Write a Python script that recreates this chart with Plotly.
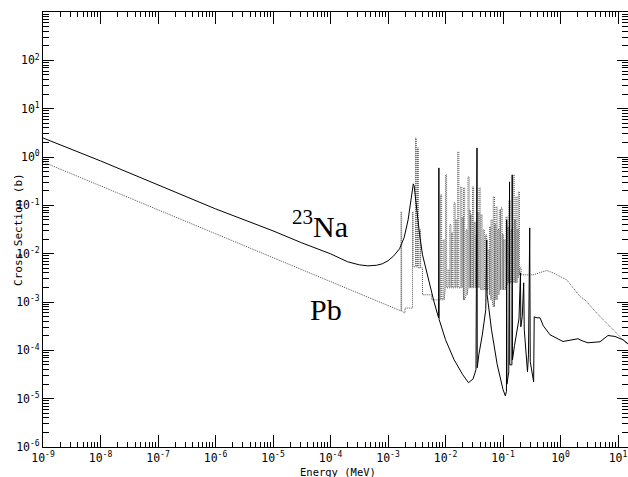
import numpy as np
import plotly.graph_objects as go

# ---------------- data (log10 of energy in MeV, log10 of cross section in b) ----------------
na_log10_energy = [-9.0, -8.0, -7.0, -6.0, -5.0, -4.5, -4.0, -3.7, -3.5, -3.35, -3.2, -3.1, -3.0,
                   -2.9, -2.8, -2.72, -2.65, -2.6, -2.56, -2.545, -2.52, -2.49, -2.45, -2.40,
                   -2.30, -2.20, -2.12, -2.115, -2.111, -2.0, -1.85, -1.70, -1.60, -1.52, -1.47,
                   -1.452, -1.448, -1.42, -1.36, -1.30, -1.282, -1.276, -1.2, -1.1, -1.0, -0.96,
                   -0.94, -0.936, -0.932, -0.90, -0.886, -0.882, -0.845, -0.840, -0.836, -0.80,
                   -0.75, -0.722, -0.696, -0.690, -0.665, -0.640, -0.630, -0.600, -0.574,
                   -0.557, -0.535, -0.526, -0.487, -0.467, -0.457, -0.409, -0.357, -0.299,
                   -0.183, 0.043, 0.304, 0.374, 0.478, 0.687, 0.826, 0.948, 1.087, 1.174]
na_log10_xs = [0.394, -0.081, -0.577, -1.073, -1.528, -1.776, -2.003, -2.169, -2.231, -2.252,
               -2.240, -2.210, -2.148, -2.045, -1.900, -1.670, -1.300, -0.887, -0.556, -0.598,
               -0.887, -1.197, -1.611, -2.024, -2.540, -2.995, -3.330, -0.226, -3.360, -3.780,
               -4.195, -4.505, -4.670, -4.590, -4.400, 0.188, -4.360, -4.090, -3.680, -3.160,
               -1.714, -2.850, -3.575, -4.300, -4.810, -4.940, -4.850, -1.300, -4.700, -4.450,
               -0.515, -4.300, -4.300, -0.370, -4.200, -3.900, -3.550, -3.350, -2.397, -3.513,
               -3.300, -2.603, -3.575, -3.988, -4.443, -4.092, -1.466, -4.236, -4.505, -4.650,
               -3.306, -3.327, -3.327, -3.492, -3.678, -3.817, -3.761, -3.802, -3.844, -3.823,
               -3.693, -3.713, -3.782, -3.864]

pb_low_log10_energy = [-9.0, -8.0, -7.0, -6.0, -5.0, -4.0, -3.0, -2.774, -2.774, -2.763, -2.763,
                       -2.704, -2.704, -2.574, -2.574, -2.564, -2.564, -2.522, -2.522, -2.508,
                       -2.508, -2.487, -2.487, -2.473, -2.473, -2.443, -2.443, -2.433, -2.433,
                       -2.400, -2.400, -2.240, -2.240, -2.113]
pb_low_log10_xs = [-0.102, -0.598, -1.094, -1.590, -2.086, -2.583, -3.079, -3.185, -1.135, -1.135,
                   -3.190, -3.230, -3.126, -3.126, -1.135, -1.135, -2.272, -2.272, 0.394, 0.394,
                   -2.272, -2.272, 0.188, 0.188, -2.293, -2.293, -1.507, -1.507, -2.293, -2.293,
                   -2.851, -2.851, -2.955, -2.955]

# resolved resonance forest of Pb: position, peak, background
pb_res_log10_energy = [-2.087, -2.043, -2.001, -1.957, -1.925, -1.896, -1.852, -1.820, -1.788,
                       -1.736, -1.710, -1.687, -1.643, -1.609, -1.585, -1.565, -1.530, -1.500,
                       -1.470, -1.440, -1.417, -1.383, -1.343, -1.304, -1.261, -1.235, -1.209,
                       -1.169, -1.145, -1.122, -1.090, -1.064, -1.035, -1.010, -0.983, -0.948,
                       -0.920, -0.896, -0.861, -0.826, -0.800, -0.777, -0.755, -0.734, -0.704]
pb_res_log10_peak = [-0.784, -1.714, -0.370, -2.334, -1.400, -1.570, -0.949, -1.300, 0.105,
                     -0.619, -1.250, -0.639, -1.507, -0.412, -1.100, -1.197, -0.619, -1.350,
                     -1.611, -1.150, -0.639, -1.197, -1.507, -1.611, -1.921, -1.450, -1.301,
                     -0.825, -1.400, -1.032, -1.500, -1.094, -1.053, -1.600, -1.714, -1.239,
                     -1.450, -0.887, -1.507, -0.370, -1.300, -0.825, -1.500, -0.722, -2.293]
pb_res_log10_base = [-2.955, -2.955, -2.707, -2.707, -2.707, -2.707, -2.707, -2.707, -2.707,
                     -2.707, -2.707, -2.955, -2.851, -2.707, -2.707, -2.707, -2.707, -2.707,
                     -2.707, -2.707, -2.707, -2.748, -2.748, -2.748, -2.748, -2.850, -2.955,
                     -3.099, -2.955, -2.955, -2.850, -2.748, -2.748, -2.748, -2.748, -2.645,
                     -2.603, -2.603, -2.603, -2.603, -2.603, -2.603, -2.500, -2.438, -2.438]

pb_tail_log10_energy = [-0.478, -0.357, -0.240, -0.130, 0.108, 0.339, 0.426, 0.630, 0.918, 1.174]
pb_tail_log10_xs = [-2.438, -2.397, -2.349, -2.397, -2.541, -2.887, -2.955, -3.230, -3.575, -3.885]

x_tick_exponents = [-9, -8, -7, -6, -5, -4, -3, -2, -1, 0, 1]
x_tick_text = ["10<sup>-9</sup>", "10<sup>-8</sup>", "10<sup>-7</sup>", "10<sup>-6</sup>",
               "10<sup>-5</sup>", "10<sup>-4</sup>", "10<sup>-3</sup>", "10<sup>-2</sup>",
               "10<sup>-1</sup>", "10<sup>0</sup>", "10<sup>1</sup>"]
y_tick_exponents = [-6, -5, -4, -3, -2, -1, 0, 1, 2, 3]
y_tick_text = ["10<sup>-6</sup>", "10<sup>-5</sup>", "10<sup>-4</sup>", "10<sup>-3</sup>",
               "10<sup>-2</sup>", "10<sup>-1</sup>", "10<sup>0</sup>", "10<sup>1</sup>",
               "10<sup>2</sup>", ""]

# ---------------- build Pb polyline ----------------
pb_e = list(pb_low_log10_energy)
pb_s = list(pb_low_log10_xs)
for e, pk, bs in zip(pb_res_log10_energy, pb_res_log10_peak, pb_res_log10_base):
    w = 0.02
    pb_e += [e, e, e + w, e + w]
    pb_s += [bs, pk, pk, bs]
pb_e += pb_tail_log10_energy
pb_s += pb_tail_log10_xs

na_energy = 10 ** np.array(na_log10_energy)
na_xs = 10 ** np.array(na_log10_xs)
pb_energy = 10 ** np.array(pb_e)
pb_xs = 10 ** np.array(pb_s)

fig = go.Figure()
fig.add_trace(go.Scatter(x=pb_energy, y=pb_xs, mode="lines", name="Pb",
                         line=dict(color="#555555", width=1, dash="1px,1px")))
fig.add_trace(go.Scatter(x=na_energy, y=na_xs, mode="lines", name="23Na",
                         line=dict(color="#000000", width=1)))

mono = dict(family="DejaVu Sans Mono", size=11.5, color="black")
x_minor = [m * 10.0 ** d for d in range(-9, 2) for m in range(2, 10)]
y_minor = [m * 10.0 ** d for d in range(-6, 3) for m in range(2, 10)]

fig.update_layout(
    width=628, height=477,
    margin=dict(l=43, r=0, t=12, b=30),
    paper_bgcolor="white", plot_bgcolor="white",
    showlegend=False,
    xaxis=dict(type="log", range=[-9, 1.174], showline=True, linecolor="black", linewidth=1,
               mirror="ticks", ticks="inside", ticklen=12, tickwidth=1, tickcolor="black",
               tickmode="array", tickvals=[10.0 ** k for k in x_tick_exponents],
               ticktext=x_tick_text, tickfont=mono, showgrid=False, zeroline=False,
               minor=dict(tickmode="array", tickvals=x_minor, ticks="inside", ticklen=5,
                          tickcolor="black", tickwidth=1, showgrid=False)),
    yaxis=dict(type="log", range=[-6, 3], showline=True, linecolor="black", linewidth=1,
               mirror="ticks", ticks="inside", ticklen=11, tickwidth=1, tickcolor="black",
               tickmode="array", tickvals=[10.0 ** k for k in y_tick_exponents],
               ticktext=y_tick_text, tickfont=mono, showgrid=False, zeroline=False,
               minor=dict(tickmode="array", tickvals=y_minor, ticks="inside", ticklen=6,
                          tickcolor="black", tickwidth=1, showgrid=False)),
    annotations=[
        dict(text="Energy (MeV)", xref="paper", yref="paper", x=0.504, y=-0.057,
             xanchor="center", yanchor="middle", showarrow=False,
             font=dict(family="DejaVu Sans Mono", size=10.5, color="black")),
        dict(text="Cross Section (b)", xref="paper", yref="paper", x=-0.041, y=0.499,
             xanchor="center", yanchor="middle", showarrow=False, textangle=-90,
             font=dict(family="DejaVu Sans Mono", size=11, color="black")),
        dict(text="<sup>23</sup>Na", xref="paper", yref="paper", x=0.4735, y=0.513,
             xanchor="center", yanchor="middle", showarrow=False,
             font=dict(family="Liberation Serif", size=30, color="black")),
        dict(text="Pb", xref="paper", yref="paper", x=0.484, y=0.317,
             xanchor="center", yanchor="middle", showarrow=False,
             font=dict(family="Liberation Serif", size=30, color="black")),
    ],
)

fig.write_html("out.html")
